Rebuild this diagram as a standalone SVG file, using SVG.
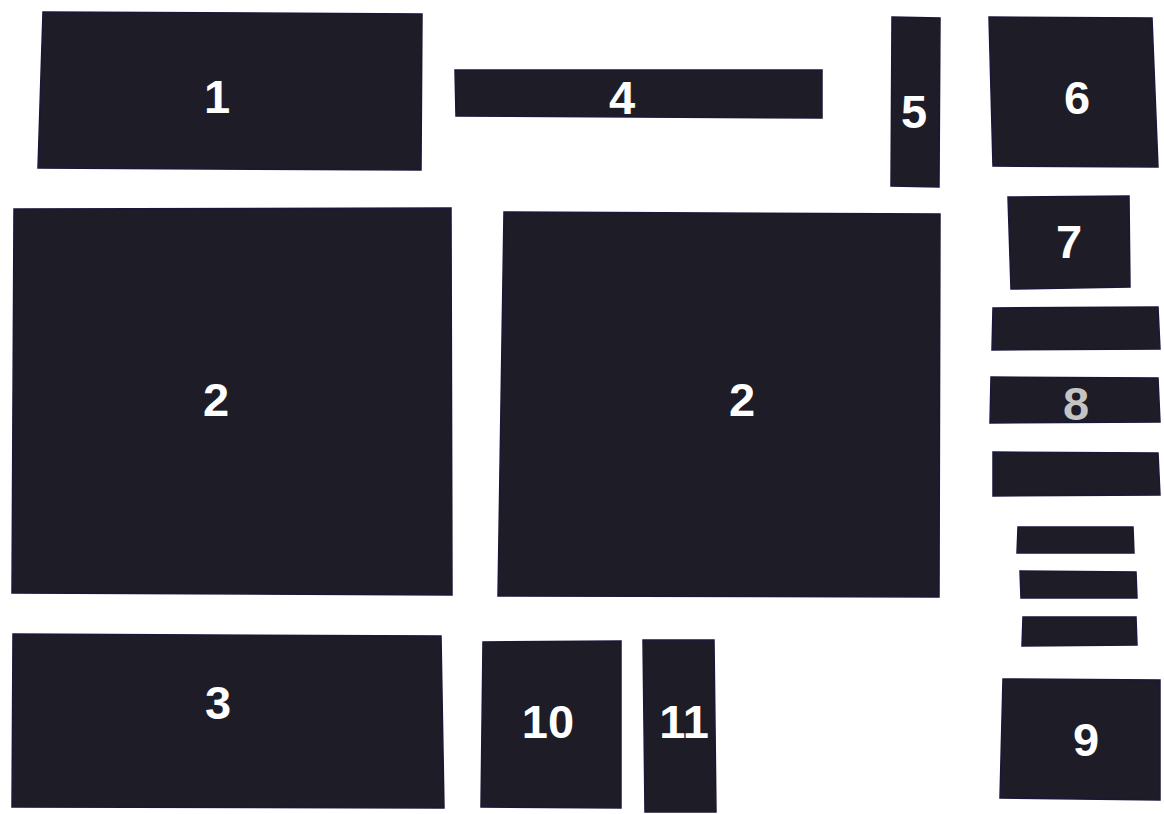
<svg xmlns="http://www.w3.org/2000/svg" width="1164" height="814" viewBox="0 0 1164 814">
<style>
.p{fill:#1d1c27;stroke:#18183a;stroke-width:1.5}
.t{font-family:"Liberation Sans",Arial,sans-serif;font-weight:bold;font-size:47px;fill:#ffffff;text-anchor:middle}
.g{fill:#c4c4c4}
</style>
<rect width="1164" height="814" fill="#ffffff"/>
<g id="piece1"><polygon class="p" points="43,12 422,14 421,170 38,168"/><text class="t" x="217" y="113">1</text></g>
<g id="piece4"><polygon class="p" points="455,70 822,70 822,118 456,116"/><text class="t" x="622" y="114">4</text></g>
<g id="piece5"><polygon class="p" points="892,17 940,18 939,187 891,186"/><text class="t" x="914" y="128">5</text></g>
<g id="piece6"><polygon class="p" points="989,17 1152,18 1158,167 993,166"/><text class="t" x="1077" y="114">6</text></g>
<g id="piece2a"><polygon class="p" points="14,209 451,208 452,595 12,593"/><text class="t" x="216" y="416">2</text></g>
<g id="piece2b"><polygon class="p" points="504,212 940,214 939,597 498,596"/><text class="t" x="742" y="416">2</text></g>
<g id="piece7"><polygon class="p" points="1008,197 1129,196 1130,287 1011,289"/><text class="t" x="1069" y="258">7</text></g>
<g id="piece8">
<polygon class="p" points="993,308 1158,307 1160,349 992,350"/>
<polygon class="p" points="991,377 1158,378 1160,422 990,423"/>
<polygon class="p" points="993,452 1158,453 1160,495 993,496"/>
<text class="t g" x="1076" y="420">8</text>
</g>
<g id="pieceSmall">
<polygon class="p" points="1018,527 1133,527 1134,553 1017,553"/>
<polygon class="p" points="1020,571 1136,572 1137,598 1021,598"/>
<polygon class="p" points="1023,617 1136,617 1137,645 1022,646"/>
</g>
<g id="piece9"><polygon class="p" points="1003,679 1160,680 1160,800 1000,798"/><text class="t" x="1086" y="756">9</text></g>
<g id="piece3"><polygon class="p" points="13,634 441,636 444,808 12,807"/><text class="t" x="218" y="719">3</text></g>
<g id="piece10"><polygon class="p" points="483,642 621,641 621,808 481,807"/><text class="t" x="548" y="738">10</text></g>
<g id="piece11"><polygon class="p" points="643,640 714,640 716,812 645,812"/><text class="t" x="684" y="738">11</text></g>
</svg>
